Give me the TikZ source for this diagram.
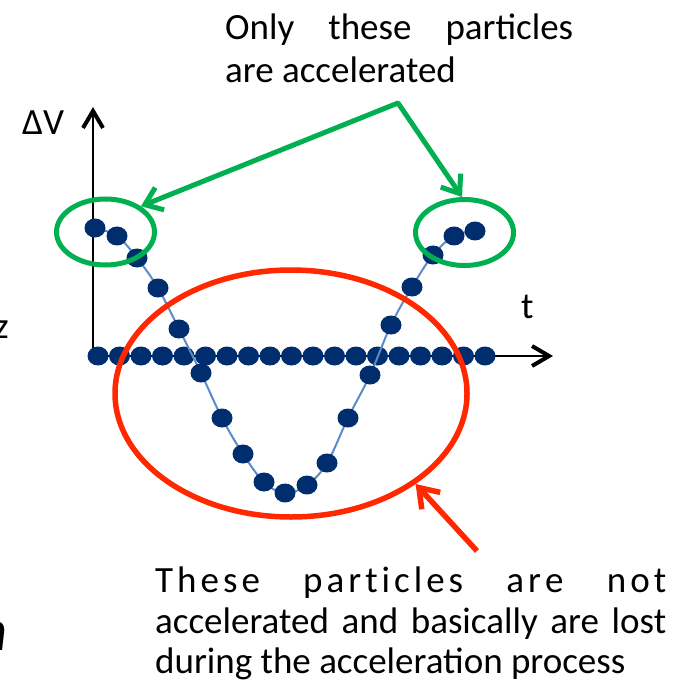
\documentclass[tikz,border=0pt]{standalone}
\usepackage{fontspec}
\setmainfont{Carlito}
\usetikzlibrary{shapes.geometric,arrows.meta}
\definecolor{navy}{RGB}{0,45,110}
\definecolor{curveblue}{RGB}{91,139,201}
\definecolor{grn}{RGB}{0,176,80}
\definecolor{rd}{RGB}{255,40,0}
\newcommand\ls{\kern4pt}
\begin{document}
\begin{tikzpicture}[x=1pt,y=-1pt,
  dot/.style={ellipse, fill=navy, minimum width=21pt, minimum height=19pt, inner sep=0pt},
  axisline/.style={line width=2pt, -{Straight Barb[length=17pt,width=20pt,line width=4pt]}},
  curveline/.style={curveblue, line width=2pt},
  greenring/.style={ellipse, draw=grn, line width=5pt, inner sep=0pt},
  redring/.style={ellipse, draw=rd, line width=5.5pt, inner sep=0pt},
  greenarrow/.style={grn, line width=5pt, line join=round, {Straight Barb[length=16pt,width=24pt,line width=5pt]}-{Straight Barb[length=16pt,width=24pt,line width=5pt]}},
  redarrow/.style={rd, line width=5.5pt, -{Straight Barb[length=18pt,width=25pt,line width=5.5pt]}},
  lbl/.style={inner sep=0pt, font=\fontsize{37}{43}\selectfont}
]
\useasboundingbox (0,0) rectangle (675,684);

% axes
\coordinate (O) at (93,356);
\coordinate (ytip) at (93,107);
\coordinate (xtip) at (553,356);
\draw[axisline] (O) -- (ytip);
\draw[axisline] (O) -- (xtip);

% row of particles on the axis
\foreach \i in {0,...,18}
  \node[dot] (h\i) at ({98+21.5*\i},356) {};

% curve
\draw[curveline] plot[smooth, tension=0.6] coordinates {
  (95,228) (117,236) (137,258) (158,288) (179,329) (201,373) (222,418)
  (243,454) (264,482) (285,493) (307,485) (327,463) (348,418) (370,375)
  (391,325) (412,287) (433,255) (454,236) (475,231)};

\foreach \x/\y [count=\k] in {95/228,117/236,137/258,158/288,179/329,201/373,222/418,
  243/454,264/482,285/493,307/485,327/463,348/418,370/375,
  391/325,412/287,433/255,454/236,475/231}
  \node[dot] (c\k) at (\x,\y) {};

% rings
\node[greenring, minimum width=98pt, minimum height=66pt] (leftell) at (105.5,232) {};
\node[greenring, minimum width=98pt, minimum height=66pt] (rightell) at (464.5,232.5) {};
\node[redring, minimum width=352pt, minimum height=247pt] (redell) at (291,393.5) {};

% arrows
\coordinate (apex) at (398,103);
\draw[greenarrow] (leftell.36) -- (apex) -- (rightell.94);
\coordinate (redtail) at (477,551);
\draw[redarrow] (redtail) -- (redell.-36);

% labels
\node[lbl, anchor=base west] (dv) at (22,135) {ΔV};
\node[lbl, anchor=base west] (tl) at (521,318) {t};
\node[lbl, anchor=base west] (top1) at (225,40) {\makebox[348pt][s]{Only these particles}};
\node[lbl, anchor=base west] (top2) at (225,83) {are accelerated};
\node[lbl, anchor=base west] (bot1) at (155,592) {\makebox[511pt][l]{T\ls h\ls e\ls s\ls e\hfill p\ls a\ls r\ls t\ls i\ls c\ls l\ls e\ls s\hfill a\ls r\ls e\hfill n\ls o\ls t}};
\node[lbl, anchor=base west] (bot2) at (155,633) {\makebox[511pt][s]{accelerated and basically are lost}};
\node[lbl, anchor=base west] (bot3) at (155,673) {during the acceleration process};

% cut-off letters at the left edge, as in the reference
\node[lbl, anchor=base east] (zcut) at (9,338) {z};
\node[inner sep=0pt, anchor=base east, font=\fontsize{58}{60}\selectfont\bfseries\itshape] (ncut) at (7,650) {n};
\end{tikzpicture}
\end{document}
